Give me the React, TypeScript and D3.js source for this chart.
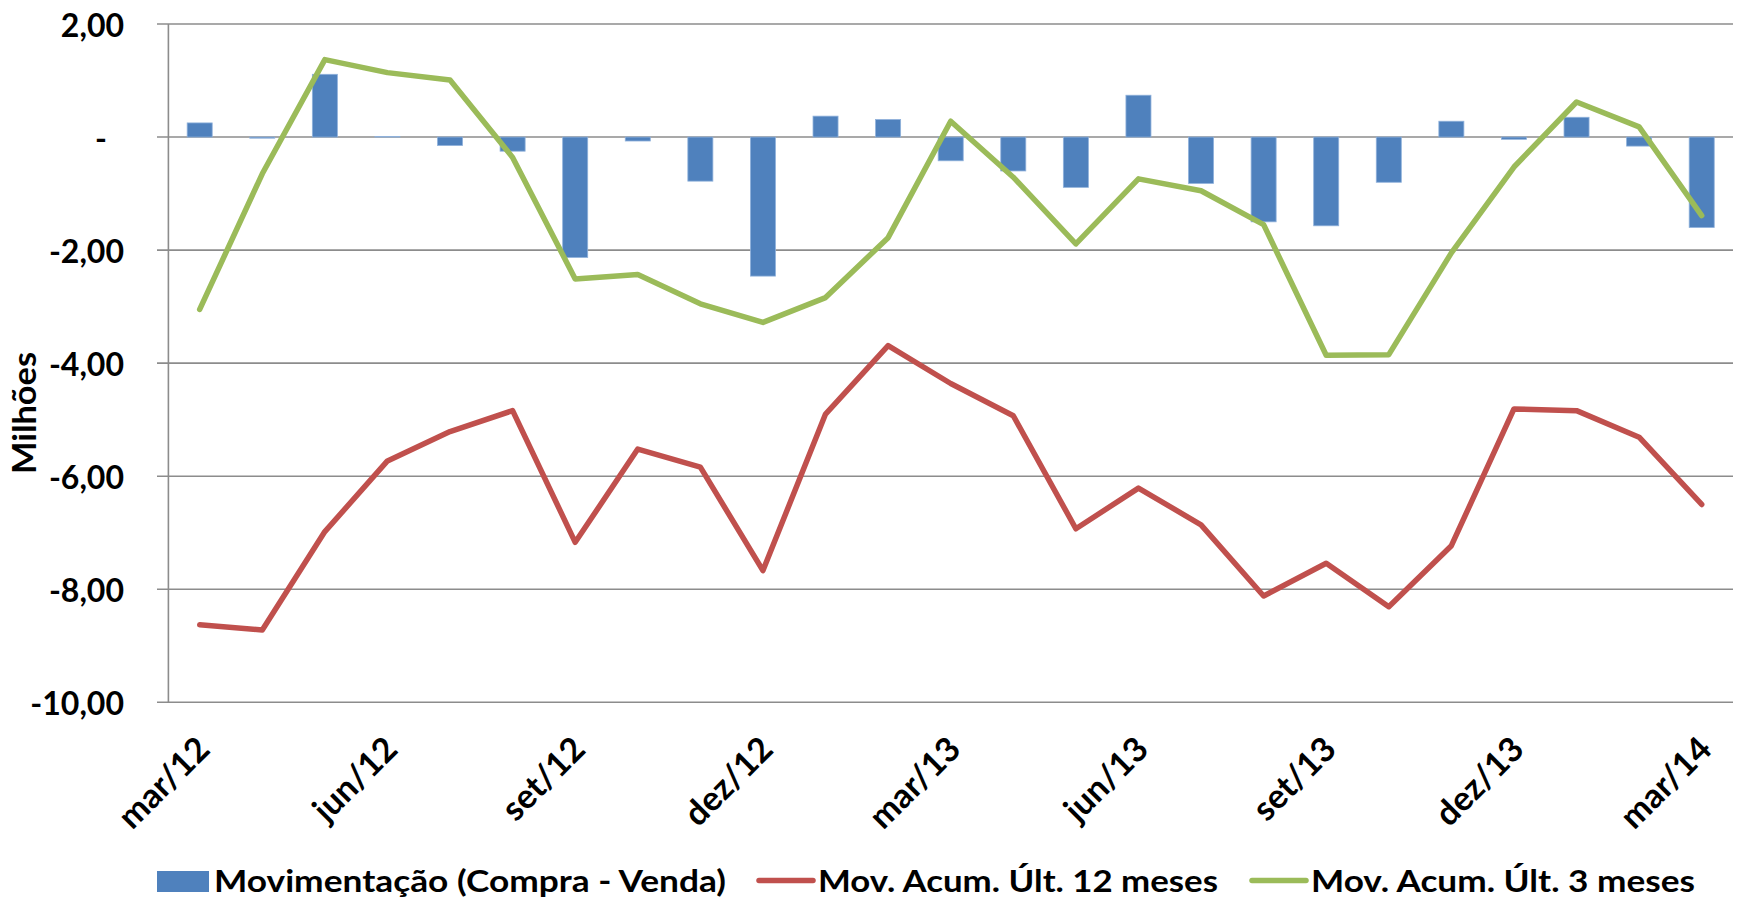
import React from "react";
import * as d3 from "d3";

const months = ["mar/12","abr/12","mai/12","jun/12","jul/12","ago/12","set/12","out/12","nov/12","dez/12","jan/13","fev/13","mar/13","abr/13","mai/13","jun/13","jul/13","ago/13","set/13","out/13","nov/13","dez/13","jan/14","fev/14","mar/14"];
const shownLabels = ["mar/12","jun/12","set/12","dez/12","mar/13","jun/13","set/13","dez/13","mar/14"];
const movimentacao = [0.25,-0.02,1.11,0.01,-0.15,-0.25,-2.13,-0.07,-0.78,-2.46,0.37,0.31,-0.42,-0.60,-0.89,0.74,-0.82,-1.50,-1.57,-0.80,0.28,-0.04,0.35,-0.16,-1.60];
const acum12 = [-8.63,-8.72,-6.98,-5.73,-5.21,-4.84,-7.17,-5.52,-5.84,-7.67,-4.90,-3.69,-4.36,-4.93,-6.93,-6.21,-6.86,-8.12,-7.54,-8.31,-7.23,-4.81,-4.84,-5.31,-6.50];
const acum3 = [-3.05,-0.65,1.37,1.14,1.01,-0.36,-2.51,-2.43,-2.95,-3.28,-2.84,-1.78,0.28,-0.71,-1.89,-0.74,-0.95,-1.55,-3.86,-3.85,-2.05,-0.53,0.62,0.18,-1.39];
const yTicks = [2,0,-2,-4,-6,-8,-10];
const seriesNames = ["Movimentação (Compra - Venda)","Mov. Acum. Últ. 12 meses","Mov. Acum. Últ. 3 meses"];
const yTitle = "Milhões";

const W = 1738, H = 900;
const left = 168.4, right = 1733, top = 24, bottom = 702.3;
const FONT = "Lato, 'Open Sans', sans-serif";
const BLUE = "#4F81BD", RED = "#C0504D", GREEN = "#9BBB59", GRID = "#8C8C8C";
const LW = 5.5;

const fmt = (v: number) => (v === 0 ? "-" : d3.format(".2f")(v).replace(".", ",").replace("−", "-"));

export default function App() {
  const x = d3.scaleBand<string>().domain(months).range([left, right]).paddingInner(0.6).paddingOuter(0.3);
  const y = d3.scaleLinear().domain([-10, 2]).range([bottom, top]);
  const cx = (i: number) => (x(months[i]) as number) + x.bandwidth() / 2;
  const line = d3.line<number>().x((_, i) => cx(i)).y((d) => y(d));
  const legend = [
    { sx: 157, tx: 214, tl: 512 },
    { sx: 759, tx: 818, tl: 400 },
    { sx: 1252, tx: 1311, tl: 384 },
  ];
  return (
    <svg width={W} height={H} style={{ position: "absolute", left: 0, top: 0, display: "block", background: "#fff" }} fontFamily={FONT}>
      {yTicks.map((t) => (
        <line key={"g" + t} x1={157} x2={right} y1={y(t)} y2={y(t)} stroke={GRID} strokeWidth={1.6} />
      ))}
      <line x1={left} x2={left} y1={top} y2={bottom} stroke={GRID} strokeWidth={1.6} />
      {yTicks.map((t) => (
        <text key={"t" + t} x={t === 0 ? 107 : 124} y={y(t)} textAnchor="end" dominantBaseline="central" fontSize={32} fontWeight={700} fill="#000">
          {fmt(t)}
        </text>
      ))}
      <text transform={`translate(36,413) rotate(-90)`} textAnchor="middle" fontSize={33} fontWeight={700} textLength={122} lengthAdjust="spacingAndGlyphs">{yTitle}</text>
      {movimentacao.map((v, i) => (
        <rect key={"b" + i} x={x(months[i])} width={x.bandwidth()} y={Math.min(y(v), y(0))} height={Math.abs(y(v) - y(0))} fill={BLUE} stroke="#8FB1DB" strokeWidth={0.8} />
      ))}
      <path d={line(acum12) || ""} fill="none" stroke={RED} strokeWidth={LW} strokeLinejoin="round" strokeLinecap="round" />
      <path d={line(acum3) || ""} fill="none" stroke={GREEN} strokeWidth={LW} strokeLinejoin="round" strokeLinecap="round" />
      {shownLabels.map((m) => {
        const c = (x(m) as number) + x.bandwidth() / 2;
        return (
          <text key={"x" + m} transform={`translate(${c + 12},${bottom + 49}) rotate(-45)`} textAnchor="end" fontSize={34} fontWeight={700}>
            {m}
          </text>
        );
      })}
      <rect x={legend[0].sx} y={871} width={52} height={21} fill={BLUE} />
      <line x1={legend[1].sx} x2={legend[1].sx + 54} y1={880.5} y2={880.5} stroke={RED} strokeWidth={LW} strokeLinecap="round" />
      <line x1={legend[2].sx} x2={legend[2].sx + 54} y1={880.5} y2={880.5} stroke={GREEN} strokeWidth={LW} strokeLinecap="round" />
      {seriesNames.map((s, i) => (
        <text key={"l" + i} x={legend[i].tx} y={892} fontSize={31} fontWeight={700} textLength={legend[i].tl} lengthAdjust="spacingAndGlyphs">{s}</text>
      ))}
    </svg>
  );
}
